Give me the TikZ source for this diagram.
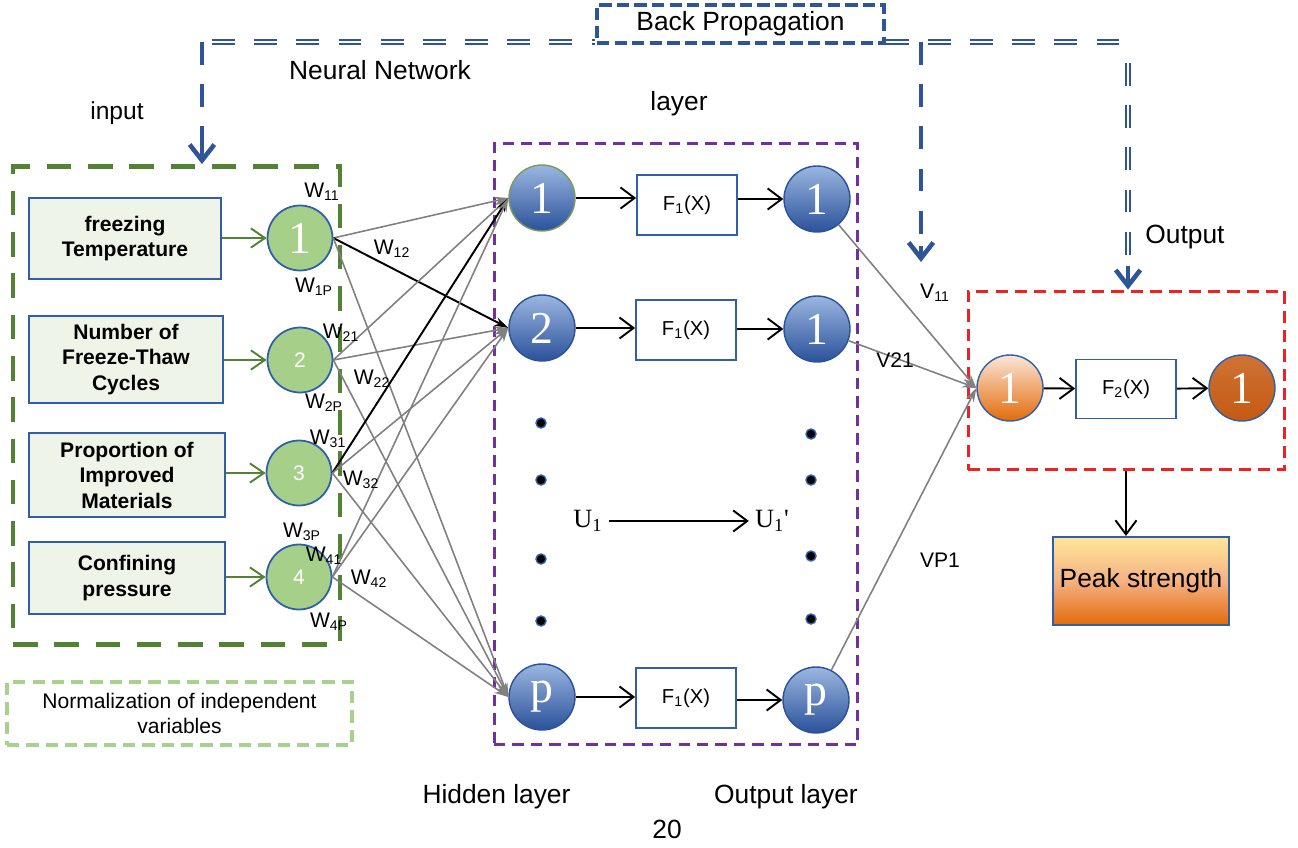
\documentclass[tikz,border=0pt]{standalone}
\usepackage{fontspec}
\setmainfont{Liberation Sans}
\newfontfamily\numfont{Liberation Serif}
\usetikzlibrary{arrows.meta}
\definecolor{boxblue}{HTML}{2F5FA8}
\definecolor{bpblue}{HTML}{2F5597}
\definecolor{ingreen}{HTML}{548235}
\definecolor{lightgreen}{HTML}{A9D18E}
\definecolor{paleg}{HTML}{EEF5E8}
\definecolor{nodegreen}{HTML}{A6CF8A}
\definecolor{purp}{HTML}{7030A0}
\definecolor{redd}{HTML}{EE2222}
\definecolor{hidtop}{HTML}{9AB6E0}
\definecolor{hidbot}{HTML}{2B519A}
\definecolor{orgtop}{HTML}{FBE6D8}
\definecolor{orgbot}{HTML}{E26B0A}
\definecolor{darkorg}{HTML}{C55A11}
\definecolor{peaktop}{HTML}{FFE699}
\definecolor{peakmid}{HTML}{F4B183}
\begin{document}
\begin{tikzpicture}[x=0.02cm,y=-0.02cm,
	big/.style={font=\fontsize{15}{18}\selectfont},
	inbox/.style={draw=boxblue, line width=1.2pt, fill=paleg, align=center, font=\fontsize{12}{14.5}\selectfont\bfseries},
	incirc/.style={circle, draw=boxblue, line width=1pt, fill=nodegreen, minimum size=1.3cm, inner sep=0pt, text=white, font=\fontsize{12}{14}\selectfont},
	hidcirc/.style={circle, draw=hidbot, line width=0.8pt, top color=hidtop, bottom color=hidbot, minimum size=1.32cm, inner sep=0pt, text=white, font=\numfont\fontsize{26}{26}\selectfont},
	fbox/.style={draw=boxblue, line width=1pt, minimum width=2cm, minimum height=1.2cm, font=\fontsize{11.5}{13}\selectfont},
	wlab/.style={font=\fontsize{12}{14}\selectfont, inner sep=0pt},
	dot/.style={circle, fill=black, draw=boxblue, line width=0.8pt, minimum size=0.2cm, inner sep=0pt},
	link/.style={draw=gray, line width=0.9pt, -{Stealth[length=8pt,width=5pt]}},
	strong/.style={draw=black, line width=1.1pt, -{Stealth[length=8pt,width=5pt]}},
	flow/.style={line width=1.1pt, -{Straight Barb[length=8pt,width=12pt]}},
	feed/.style={draw=ingreen, line width=1.1pt, -{Straight Barb[length=8pt,width=11pt]}},
	bpthick/.style={draw=bpblue, line width=2.6pt, dash pattern=on 13pt off 11pt},
	bpdouble/.style={draw=bpblue, line width=0.8pt, double=white, double distance=1.6pt, dash pattern=on 13pt off 11pt},
	bptip/.style={draw=bpblue, line width=2.6pt, -{Straight Barb[length=9pt,width=14pt]}}
	]
	\useasboundingbox (0,0) rectangle (1298,848);
	% frames
	\node[draw=ingreen, line width=2.8pt, dash pattern=on 14pt off 9.5pt, minimum width=6.54cm, minimum height=9.56cm] (inputbox) at (176.5,405.5) {};
	\node[draw=purp, line width=1.7pt, dash pattern=on 6.5pt off 4pt, minimum width=7.28cm, minimum height=12.04cm] (hidbox) at (676,444) {};
	\node[draw=redd, line width=1.7pt, dash pattern=on 7pt off 4pt, minimum width=6.34cm, minimum height=3.58cm] (outbox) at (1126.5,380.5) {};
	\node[draw=lightgreen, line width=1.8pt, dash pattern=on 7pt off 4pt, minimum width=6.9cm, minimum height=1.26cm, align=center, font=\fontsize{12}{14.5}\selectfont] (norm) at (179.5,713.5) {Normalization of independent\\variables};
	% back propagation
	\node[draw=bpblue, line width=2pt, dash pattern=on 7pt off 3pt, minimum width=5.74cm, minimum height=0.76cm, big] (bp) at (740.5,24) {Back Propagation};
	\coordinate (bpL) at (202,42);
	\coordinate (bpLs) at (212,42);
	\coordinate (bpM) at (921,42);
	\coordinate (bpMend) at (921,262);
	\coordinate (bpR) at (1128,42);
	\coordinate (bpRs) at (1128,63);
	\coordinate (bpRend) at (1128,258);
	\coordinate (bpRtip) at (1128,266);
	\draw[bpdouble] (bpLs) -- (bpL -| bp.west);
	\draw[bpdouble] (bpM -| bp.east) -- (bpR);
	\draw[bpthick] (bpL) -- ([yshift=12pt]inputbox.north -| bpL);
	\draw[bptip] ([yshift=12pt]inputbox.north -| bpL) -- (inputbox.north -| bpL);
	\draw[bpthick] (bpM) -- ([yshift=9pt]bpMend);
	\draw[bptip] ([yshift=9pt]bpMend) -- (bpMend);
	\draw[bpdouble] (bpRs) -- (bpRend);
	\draw[bptip] (bpRtip) -- (outbox.north -| bpR);
	% free texts
	\node[big] (nn) at (380,70) {Neural Network};
	\node[font=\fontsize{14}{16}\selectfont] (inp) at (117,113) {input};
	\node[big] (lay) at (679,104) {layer};
	\node[big] (outl) at (1185,237) {Output};
	\node[big] (hidl) at (496.5,797) {Hidden layer};
	\node[big] (outlay) at (786,797) {Output layer};
	\node[big] (num) at (667,829) {20};
	% input layer
	\node[inbox, minimum width=3.84cm, minimum height=1.62cm] (b1) at (125,238.5) {freezing\\Temperature};
	\node[inbox, minimum width=3.88cm, minimum height=1.74cm] (b2) at (126,359.5) {Number of\\Freeze-Thaw\\Cycles};
	\node[inbox, minimum width=3.92cm, minimum height=1.68cm] (b3) at (127,475) {Proportion of\\Improved\\Materials};
	\node[inbox, minimum width=3.92cm, minimum height=1.44cm] (b4) at (127,578) {Confining\\pressure};
	\node[incirc, font=\numfont\fontsize{26}{26}\selectfont] (i1) at (300,238) {1};
	\node[incirc] (i2) at (300,360) {2};
	\node[incirc] (i3) at (299,473) {3};
	\node[incirc] (i4) at (299,577) {4};
	\foreach \n in {1,...,4}
		\draw[feed] (b\n.east |- i\n) -- (i\n.west);
	% hidden and output layer
	\node[hidcirc, draw=ingreen!80] (h1) at (542,198) {1};
	\node[hidcirc] (h2) at (542,328) {2};
	\node[hidcirc] (hp) at (542,697) {p};
	\node[fbox] (f1) at (687,205) {F\textsubscript{1}(X)};
	\node[fbox] (f2) at (686,330) {F\textsubscript{1}(X)};
	\node[fbox] (fp) at (686,698) {F\textsubscript{1}(X)};
	\node[hidcirc] (o1) at (817,199) {1};
	\node[hidcirc] (o2) at (817,329) {1};
	\node[hidcirc] (op) at (816,700) {p};
	\foreach \a/\b in {h1/f1, h2/f2, hp/fp}
		\draw[flow] (\a) -- (\b.west |- \a);
	\foreach \a/\b in {f1/o1, f2/o2, fp/op}
		\draw[flow] (\a.east |- \b) -- (\b);
	\foreach \y [count=\k] in {423,480,559,621}
		\node[dot] (dl\k) at (541,\y) {};
	\foreach \y [count=\k] in {434,480,556,619}
		\node[dot] (dr\k) at (811,\y) {};
	\node[font=\numfont\fontsize{15}{18}\selectfont] (u1) at (588,521) {U\textsubscript{1}};
	\node[font=\numfont\fontsize{15}{18}\selectfont] (u1p) at (772,521) {U\textsubscript{1}'};
	\draw[flow] (u1.east) -- (u1p.west);
	% weights
	\foreach \a/\b/\s in {i1/h1/link, i1/h2/strong, i1/hp/link,
		i2/h1/link, i2/h2/link, i2/hp/link,
		i3/h1/strong, i3/h2/link, i3/hp/link,
		i4/h1/link, i4/h2/link, i4/hp/link}
		\draw[\s] (\a.east) -- (\b.west);
	\node[wlab] (w11) at (322,192) {W\textsubscript{11}};
	\node[wlab] (w12) at (392,249) {W\textsubscript{12}};
	\node[wlab] (w1p) at (314,287) {W\textsubscript{1P}};
	\node[wlab] (w21) at (341,333) {W\textsubscript{21}};
	\node[wlab] (w22) at (372,379) {W\textsubscript{22}};
	\node[wlab] (w2p) at (324,403) {W\textsubscript{2P}};
	\node[wlab] (w31) at (328,439) {W\textsubscript{31}};
	\node[wlab] (w32) at (361,480) {W\textsubscript{32}};
	\node[wlab] (w3p) at (302,532) {W\textsubscript{3P}};
	\node[wlab] (w41) at (324,556) {W\textsubscript{41}};
	\node[wlab] (w42) at (369,579) {W\textsubscript{42}};
	\node[wlab] (w4p) at (329,622) {W\textsubscript{4P}};
	% output part
	\node[hidcirc, draw=boxblue, top color=orgtop, bottom color=orgbot] (on1) at (1010,388) {1};
	\node[fbox, minimum height=1.18cm] (fo) at (1126,389) {F\textsubscript{2}(X)};
	\node[hidcirc, draw=boxblue, top color=darkorg!85, bottom color=darkorg] (on2) at (1242,388) {1};
	\draw[flow] (on1) -- (fo);
	\draw[flow] (fo) -- (on2);
	\foreach \o in {o1,o2,op}
		\draw[link] (\o) -- (on1.west);
	\node[wlab] (v11) at (935,293) {V\textsubscript{11}};
	\node[wlab] (v21) at (895,360) {V21};
	\node[wlab] (vp1) at (940,560) {VP1};
	\node[draw=boxblue, line width=1.2pt, top color=peaktop, bottom color=orgbot, middle color=peakmid, minimum width=3.52cm, minimum height=1.76cm, big] (peak) at (1141,581) {Peak strength};
	\draw[flow] (outbox.south -| fo) -- (peak.north -| fo);
\end{tikzpicture}
\end{document}
